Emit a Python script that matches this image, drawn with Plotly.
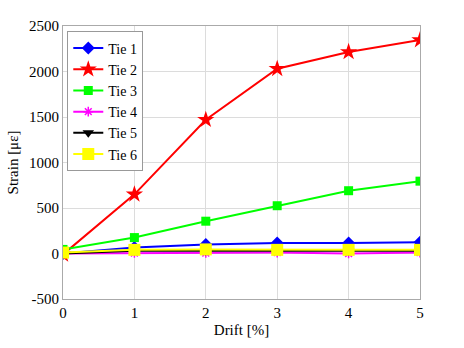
import plotly.graph_objects as go

drift = [0, 1, 2, 3, 4, 5]
tie1 = [0, 65, 100, 115, 115, 125]
tie2 = [-10, 650, 1470, 2030, 2215, 2345]
tie3 = [45, 175, 355, 525, 690, 795]
tie4 = [0, 5, 5, 10, 0, 10]
tie5 = [0, 30, 30, 30, 25, 30]
tie6 = [10, 40, 45, 40, 40, 40]
ytick_vals = [-500, 0, 500, 1000, 1500, 2000, 2500]
ytick_text = ["-500", "0", "500", "1000", "1500", "2000", "2500"]

series = [
    ("Tie 1", tie1, "#0000ff", "diamond", 10),
    ("Tie 2", tie2, "#ff0000", "star", 13),
    ("Tie 3", tie3, "#00ff00", "square", 9),
    ("Tie 4", tie4, "#ff00ff", "asterisk-open", 8),
    ("Tie 5", tie5, "#000000", "triangle-down", 10),
    ("Tie 6", tie6, "#ffff00", "square", 12),
]

FAM = "Liberation Serif"
fig = go.Figure()
for name, ys, color, sym, size in series:
    fig.add_trace(go.Scatter(
        x=drift, y=ys, name=name, mode="lines+markers",
        line=dict(color=color, width=2),
        marker=dict(symbol=sym, size=size, color=color,
                    line=dict(color=color, width=1.5 if sym == "asterisk-open" else 0)),
    ))

fig.update_layout(
    width=464, height=348,
    margin=dict(l=60, r=44, t=26, b=39),
    paper_bgcolor="white", plot_bgcolor="white",
    font=dict(family=FAM, size=15, color="#000"),
    showlegend=True,
    legend=dict(x=0.012, y=0.98, xanchor="left", yanchor="top",
                bgcolor="white", bordercolor="#999", borderwidth=1,
                font=dict(family=FAM, size=14, color="#000"),
                tracegroupgap=0, itemwidth=30),
    xaxis=dict(range=[0, 5], tickvals=drift, showgrid=True, gridcolor="#dcdcdc",
               zeroline=False, showline=True, linecolor="#aaa", mirror=True,
               ticks="", title=dict(text="Drift [%]", standoff=4,
                                    font=dict(family=FAM, size=15, color="#000")),
               tickfont=dict(family=FAM, size=15, color="#000")),
    yaxis=dict(range=[-500, 2500], tickvals=ytick_vals, ticktext=ytick_text,
               showgrid=True, gridcolor="#dcdcdc", zeroline=False,
               showline=True, linecolor="#aaa", mirror=True, ticks="",
               title=dict(text="Strain [με]", standoff=6,
                          font=dict(family=FAM, size=15, color="#000")),
               tickfont=dict(family=FAM, size=15, color="#000")),
)
fig.write_html("out.html")
